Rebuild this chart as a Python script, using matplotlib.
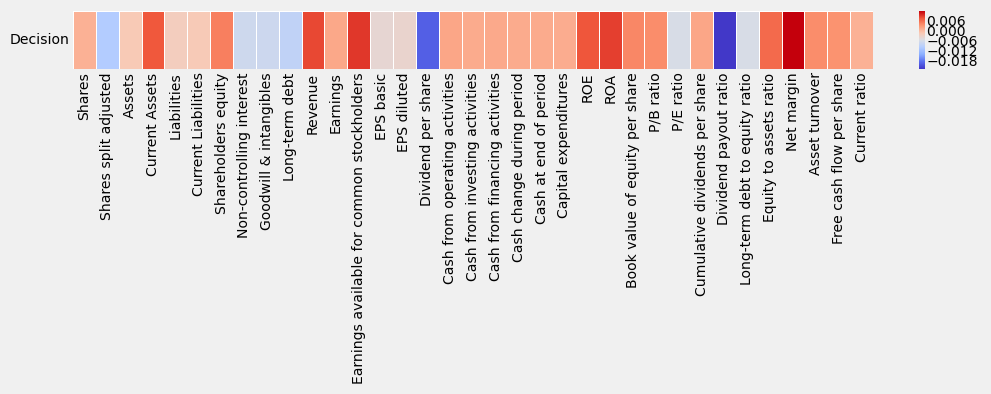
import matplotlib
matplotlib.use("Agg")
import matplotlib.pyplot as plt
from matplotlib.colors import LinearSegmentedColormap
import numpy as np
import pandas as pd
import seaborn as sns

plt.style.use("fivethirtyeight")

# column names of the heatmap
features = ["Shares", "Shares split adjusted", "Assets", "Current Assets",
            "Liabilities", "Current Liabilities", "Shareholders equity",
            "Non-controlling interest", "Goodwill & intangibles", "Long-term debt",
            "Revenue", "Earnings", "Earnings available for common stockholders",
            "EPS basic", "EPS diluted", "Dividend per share",
            "Cash from operating activities", "Cash from investing activities",
            "Cash from financing activities", "Cash change during period",
            "Cash at end of period", "Capital expenditures", "ROE", "ROA",
            "Book value of equity per share", "P/B ratio", "P/E ratio",
            "Cumulative dividends per share", "Dividend payout ratio",
            "Long-term debt to equity ratio", "Equity to assets ratio",
            "Net margin", "Asset turnover", "Free cash flow per share",
            "Current ratio"]

# correlation with Decision
corr = [0.0004, -0.0102, -0.0019, 0.0070, -0.0025, -0.0020, 0.0043,
        -0.0072, -0.0073, -0.0087, 0.0078, 0.0012, 0.0085, -0.0042,
        -0.0039, -0.0198, 0.0014, 0.0010, 0.0011, 0.0010, 0.0010,
        0.0008, 0.0071, 0.0082, 0.0038, 0.0033, -0.0061, 0.0014,
        -0.0229, -0.0061, 0.0058, 0.0113, 0.0034, 0.0029, 0.0004]

cbar_ticks = [0.006, 0.000, -0.006, -0.012, -0.018]

# a slightly more saturated coolwarm, like the reference rendering
cw_colors = [(66, 56, 200), (90, 110, 240), (140, 175, 255), (180, 205, 255),
             (218, 221, 228), (250, 200, 178), (252, 150, 115), (240, 88, 60),
             (196, 0, 12)]
cmap = LinearSegmentedColormap.from_list(
    "cw", [tuple(c / 255 for c in rgb) for rgb in cw_colors])

df = pd.DataFrame([corr], columns=features, index=["Decision"])

tdpi = 72
fig = plt.figure(figsize=(991 / tdpi, 394 / tdpi), dpi=tdpi)
fig.patch.set_facecolor("#f0f0f0")
ax = fig.add_axes([0.0737, 0.825, 0.8073, 0.147])
cax = fig.add_axes([0.9274, 0.825, 0.0055, 0.147])

sns.heatmap(df, ax=ax, cbar_ax=cax, cmap=cmap, linewidths=1,
            linecolor="white", cbar_kws={"ticks": cbar_ticks})
ax.grid(False)
ax.tick_params(axis="both", length=0, labelsize=14)
ax.set_xticklabels(features, rotation=90, fontsize=14)
ax.set_yticklabels(["Decision"], rotation=0, fontsize=14)
cax.tick_params(length=0, labelsize=14, pad=2)
cax.grid(False)

fig.savefig("out.png", dpi=tdpi, facecolor=fig.get_facecolor())
